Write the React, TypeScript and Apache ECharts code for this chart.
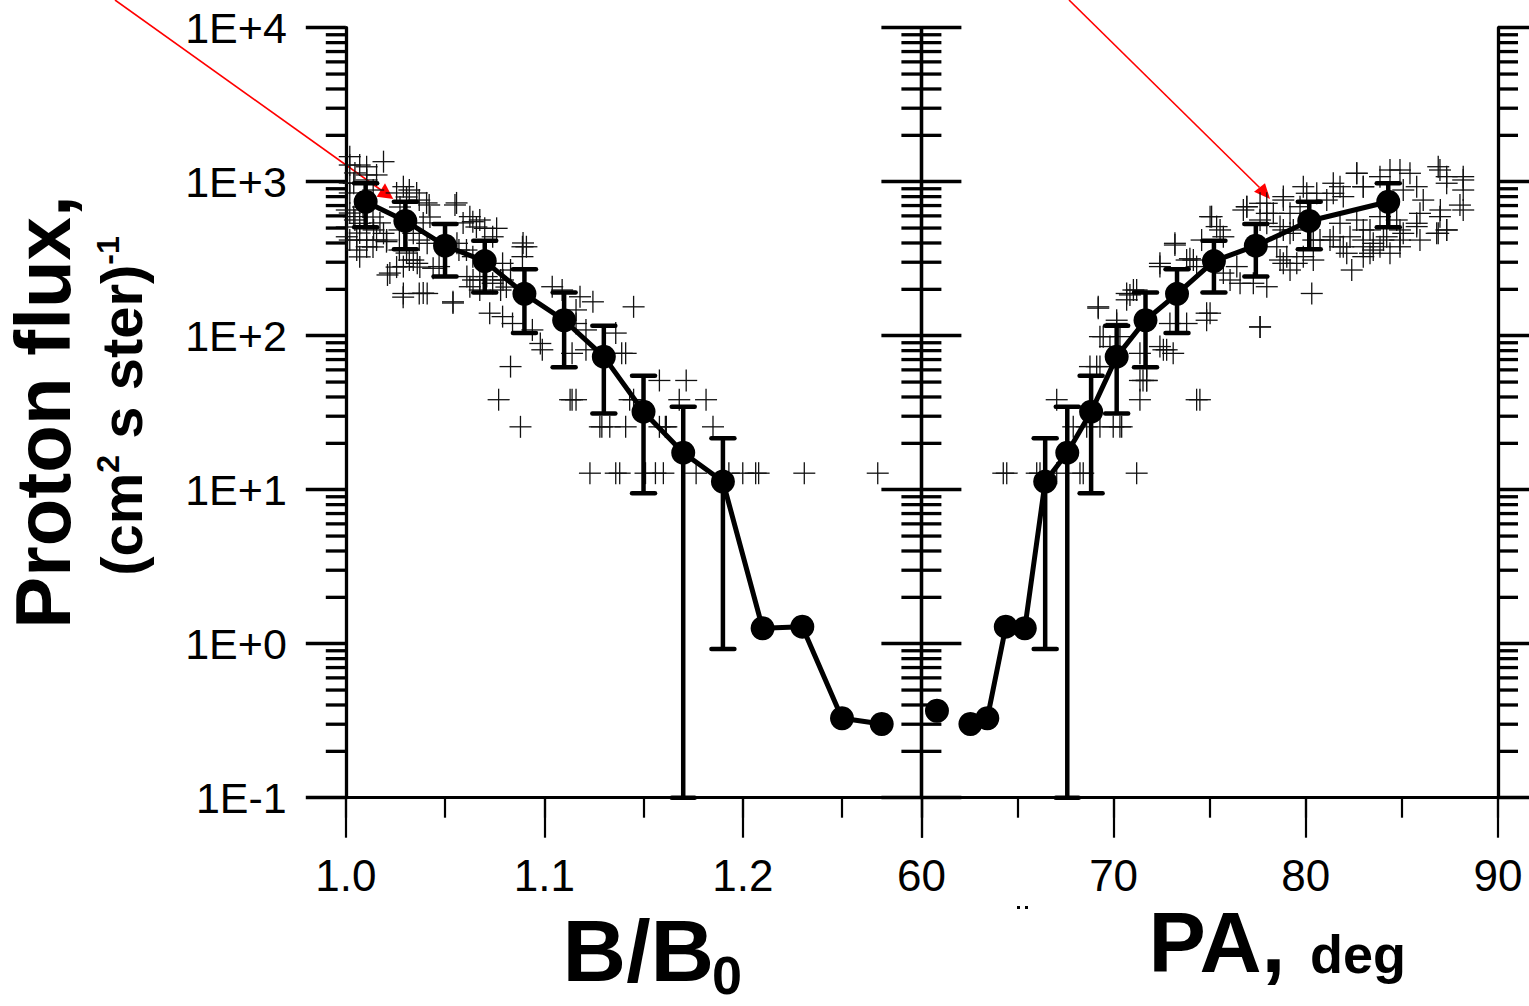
import React, { useEffect, useRef } from 'react';
import * as echarts from 'echarts';

const FONT = 'Liberation Sans, Arial, Helvetica, sans-serif';

// Mean values (black circles) – same data shown vs B/B0 and vs pitch angle
const bRatio = [1.01, 1.03, 1.05, 1.07, 1.09, 1.11, 1.13, 1.15, 1.17, 1.19, 1.21, 1.23, 1.25, 1.27];
const paDeg = [84.29, 80.18, 77.4, 75.22, 73.3, 71.66, 70.16, 68.83, 67.59, 66.44, 65.38, 64.39, 63.43, 62.55];
const fluxMean = [741, 556, 384, 305, 187, 126, 73.1, 32.1, 17.4, 11.3, 1.26, 1.29, 0.328, 0.301];
const errLow = [506, 364, 242, 191, 104, 62.4, 31.3, 9.48, 0.1, 0.925];
const errHigh = [977, 741, 531, 414, 270, 191, 116, 55, 34.6, 21.6];
const extraPa = [60.81];
const extraFlux = [0.367];

// Individual measurements ("+" markers)
const crossesB: number[][] = [
  [1.002, 1283], [1.019, 1349], [1.0105, 1106], [1.0155, 1106], [1.004, 977], [1.029, 928], [1.032, 883],
  [1.037, 760], [1.042, 706], [1.055, 706], [1.0625, 593], [1.064, 550], [1.07, 498], [1.076, 498], [1.074, 439],
  [1.0005, 655], [1.004, 593], [1.007, 537], [1.014, 486], [1.019, 462], [1.0055, 418], [1.0105, 378],
  [1.0005, 439], [1.0155, 418], [1.0205, 408], [1.027, 486], [1.034, 462], [1.037, 418], [1.041, 398],
  [1.027, 360], [1.032, 310], [1.036, 295], [1.029, 281], [1.021, 248], [1.044, 274], [1.047, 281],
  [1.056, 398], [1.057, 360], [1.064, 326], [1.061, 242], [1.0675, 230], [1.071, 242], [1.074, 219],
  [1.078, 230], [1.089, 378], [1.091, 378], [1.089, 326], [1.079, 295], [1.083, 267], [1.078, 198],
  [1.0675, 198], [1.0625, 208], [1.054, 166], [1.0725, 140], [1.079, 133], [1.084, 120], [1.094, 109],
  [1.098, 89], [1.099, 81], [1.104, 208], [1.109, 198], [1.118, 179], [1.1245, 166], [1.145, 154],
  [1.116, 147], [1.136, 104], [1.139, 76.8], [1.141, 76.8], [1.121, 81], [1.116, 120], [1.121, 109],
  [1.158, 51.2], [1.1715, 51.2], [1.1815, 38.4], [1.168, 38.4], [1.161, 25.6], [1.145, 38.4], [1.128, 25.6],
  [1.133, 25.6], [1.141, 25.6], [1.185, 25.6], [1.083, 63], [1.077, 38.4], [1.088, 25.6], [1.113, 38.4],
  [1.116, 38.4], [1.029, 188], [1.037, 188], [1.041, 188],
  [1.123, 12.8], [1.136, 12.8], [1.138, 12.8], [1.151, 12.8], [1.156, 12.8], [1.16, 12.8], [1.1765, 12.8],
  [1.193, 12.8], [1.2, 12.8], [1.2065, 12.8], [1.208, 12.8], [1.231, 12.8], [1.268, 12.8],
  [1.114, 38.4], [1.143, 38.4], [1.114, 76.8], [1.129, 25.6], [1.158, 25.6], [1.1615, 25.6],
  [1.007, 1283], [1.0046, 1140], [1.002, 981], [1.0105, 1026], [1.0138, 883], [1.002, 845], [1.0087, 685],
  [1.002, 626], [1.0046, 564], [1.0137, 590], [1.0172, 540], [1.0005, 508], [1.007, 464], [1.002, 418],
  [1.0105, 418], [1.0137, 377], [1.0055, 360], [1.007, 325], [1.0256, 845], [1.0306, 796], [1.0357, 845],
  [1.0273, 685], [1.0407, 728], [1.0424, 590], [1.039, 540], [1.0206, 418], [1.0306, 344], [1.034, 310],
  [1.0373, 279], [1.0256, 279], [1.0222, 255], [1.0289, 178], [1.039, 189], [1.054, 163], [1.0591, 540],
  [1.0658, 508], [1.0675, 564], [1.0558, 728], [1.0608, 360], [1.0641, 230], [1.0809, 207], [1.0893, 400],
  [1.0792, 230], [1.002, 1454], [1.0105, 1250],
];

const crossesPa: number[][] = [
  [69.2, 151], [70.16, 120], [70.85, 184], [71.2, 198], [72.41, 281], [73.19, 388], [73.8, 310], [74.32, 281],
  [75.1, 593], [75.36, 511], [75.71, 439], [76.06, 230], [75.02, 140], [74.84, 126], [76.75, 655], [77.62, 724],
  [77.97, 537], [77.27, 219], [77.62, 114], [78.83, 800], [79.18, 623], [78.49, 378], [78.83, 295], [79.18, 267],
  [79.87, 326], [80.39, 310], [80.31, 188], [79.87, 928], [80.57, 841], [81.43, 977], [81.95, 800], [81.43, 439],
  [81.95, 378], [82.39, 267], [82.65, 1134], [82.99, 928], [83.34, 486], [82.99, 378], [83.86, 1078],
  [84.9, 1191], [85.42, 1134], [85.77, 928], [83.86, 593], [84.21, 439], [84.9, 378], [85.77, 511],
  [86.89, 1251], [87.33, 977], [88.19, 1026], [88.19, 883], [88.19, 655], [87.0, 655], [86.89, 462],
  [87.33, 486], [86.11, 760], [84.9, 486], [83.34, 343], [83.86, 378], [84.38, 343], [74.49, 38.4],
  [67.04, 38.4], [71.72, 51.2], [71.37, 38.4], [69.12, 63], [70.42, 25.6], [69.29, 98.6], [72.59, 81],
  [70.68, 171], [74.15, 310], [74.58, 418], [76.58, 219], [76.41, 281], [75.71, 255], [78.83, 486],
  [79.35, 486], [78.66, 310], [81.09, 760], [81.78, 537], [82.65, 564], [82.99, 486], [83.51, 398],
  [85.07, 883], [85.94, 623],
  [69.2, 154], [70.16, 126], [70.33, 98.6], [69.46, 98.6], [70.68, 188], [71.03, 198], [72.41, 295],
  [73.19, 398], [73.97, 316], [75.02, 593], [75.54, 486], [74.84, 140], [72.93, 120], [73.8, 120],
  [71.37, 51.2], [71.72, 51.2], [77.62, 114], [77.97, 208], [76.93, 688], [77.97, 724], [68.77, 63],
  [69.81, 85], [72.41, 85], [72.76, 81],
  [64.26, 12.8], [64.44, 12.8], [66.0, 12.8], [66.17, 12.8], [67.04, 12.8], [68.25, 12.8], [68.42, 12.8],
  [71.2, 12.8], [74.32, 38.4], [71.53, 51.2], [67.9, 25.6], [68.6, 25.6], [69.29, 25.6], [69.98, 25.6],
  [70.33, 25.6], [69.29, 63], [71.72, 63], [71.37, 76.8], [73.1, 76.8],
  [86.98, 1191], [87.33, 1078], [88.19, 1078], [88.02, 705], [86.98, 593], [87.33, 486], [86.81, 462],
  [85.77, 537], [85.94, 418], [84.9, 418], [84.04, 418], [82.99, 418], [82.3, 439], [81.78, 378],
  [81.26, 418], [80.39, 418], [82.65, 1134], [82.99, 928], [81.78, 928], [81.43, 841], [80.05, 841],
  [79.7, 688], [78.83, 760], [78.31, 623], [78.66, 511], [79.18, 462], [79.01, 326], [79.53, 295],
  [84.38, 1191], [84.73, 564], [85.07, 462], [83.51, 360], [82.99, 326], [82.13, 343], [80.74, 418],
  [76.93, 688], [77.62, 564], [77.97, 623],
];

const yTickLabels = ['1E-1', '1E+0', '1E+1', '1E+2', '1E+3', '1E+4'];
const xTickLabelsB = ['1.0', '1.1', '1.2'];
const xTickLabelsPa = ['60', '70', '80', '90'];

// log-axis minor tick positions (2..9 x each decade) – axis structure, not data
const minorTickValues: number[] = [];
for (let e = -1; e <= 3; e++) {
  for (let m = 2; m <= 9; m++) minorTickValues.push(m * Math.pow(10, e));
}

const B_MIN = 1.0;
const B_MAX = 1.29;
const PA_MIN = 60;
const PA_MAX = 90;

function yAxisDef(gridIndex: number, position: 'left' | 'right', showLabel: boolean) {
  return {
    type: 'log',
    logBase: 10,
    gridIndex,
    position,
    min: 0.1,
    max: 10000,
    splitNumber: 5,
    axisLine: { show: true, lineStyle: { color: '#000', width: 3.3 } },
    axisTick: { show: true, inside: false, length: 40, lineStyle: { color: '#000', width: 3.3 } },
    minorTick: { show: false },
    splitLine: { show: false },
    axisLabel: {
      show: showLabel,
      showMinLabel: true,
      showMaxLabel: true,
      formatter: (v: number) => yTickLabels[Math.round(Math.log10(v)) + 1] ?? '',
      fontSize: 43,
      fontFamily: FONT,
      color: '#000',
      margin: 59,
    },
  };
}

function minorTickSeries(xAxisIndex: number, yAxisIndex: number, xMin: number, xMax: number) {
  return {
    type: 'custom',
    xAxisIndex,
    yAxisIndex,
    clip: false,
    silent: true,
    z: 3,
    data: minorTickValues.map((v) => [xMin, v]),
    renderItem: (_p: any, api: any) => {
      const v = api.value(1);
      const p0 = api.coord([xMin, v]);
      const p1 = api.coord([xMax, v]);
      const st = { stroke: '#000', lineWidth: 3.3 };
      return {
        type: 'group',
        children: [
          { type: 'line', shape: { x1: p0[0] - 20, y1: p0[1], x2: p0[0], y2: p0[1] }, style: st },
          { type: 'line', shape: { x1: p1[0], y1: p1[1], x2: p1[0] + 20, y2: p1[1] }, style: st },
        ],
      };
    },
  };
}

function crossSeries(xAxisIndex: number, yAxisIndex: number, data: number[][]) {
  return {
    type: 'custom',
    xAxisIndex,
    yAxisIndex,
    clip: false,
    silent: true,
    z: 2,
    data,
    renderItem: (_p: any, api: any) => {
      const p = api.coord([api.value(0), api.value(1)]);
      const h = 11;
      const st = { stroke: '#111', lineWidth: 1.3 };
      return {
        type: 'group',
        children: [
          { type: 'line', shape: { x1: p[0] - h, y1: p[1], x2: p[0] + h, y2: p[1] }, style: st },
          { type: 'line', shape: { x1: p[0], y1: p[1] - h, x2: p[0], y2: p[1] + h }, style: st },
        ],
      };
    },
  };
}

function errorSeries(xAxisIndex: number, yAxisIndex: number, xs: number[]) {
  return {
    type: 'custom',
    xAxisIndex,
    yAxisIndex,
    clip: false,
    silent: true,
    z: 4,
    data: errLow.map((lo, i) => [xs[i], lo, errHigh[i]]),
    encode: { x: 0, y: [1, 2] },
    renderItem: (_p: any, api: any) => {
      const x = api.value(0);
      const lo = api.coord([x, api.value(1)]);
      const hi = api.coord([x, api.value(2)]);
      const cw = 11.5;
      const st = { stroke: '#000', lineWidth: 4.5 };
      const cap = { stroke: '#000', lineWidth: 4.5, lineCap: 'round' };
      return {
        type: 'group',
        children: [
          { type: 'line', shape: { x1: lo[0], y1: lo[1], x2: hi[0], y2: hi[1] }, style: st },
          { type: 'line', shape: { x1: hi[0] - cw, y1: hi[1], x2: hi[0] + cw, y2: hi[1] }, style: cap },
          { type: 'line', shape: { x1: lo[0] - cw, y1: lo[1], x2: lo[0] + cw, y2: lo[1] }, style: cap },
        ],
      };
    },
  };
}

function xMajor(gridIndex: number, min: number, max: number, interval: number, formatter: (v: number) => string) {
  return {
    type: 'value',
    gridIndex,
    position: 'bottom',
    min,
    max,
    interval,
    axisLine: { show: true, lineStyle: { color: '#000', width: 3 } },
    axisTick: { show: true, inside: false, length: 40, lineStyle: { color: '#000', width: 2.2 } },
    splitLine: { show: false },
    axisLabel: {
      show: true,
      showMinLabel: true,
      showMaxLabel: true,
      formatter,
      fontSize: 44,
      fontFamily: FONT,
      color: '#000',
      margin: 56,
    },
  };
}

function xMinor(gridIndex: number, min: number, max: number, interval: number) {
  return {
    type: 'value',
    gridIndex,
    position: 'bottom',
    min,
    max,
    interval,
    axisLine: { show: false },
    axisTick: { show: true, inside: false, length: 20, lineStyle: { color: '#000', width: 2.2 } },
    splitLine: { show: false },
    axisLabel: { show: false },
  };
}

const labelB = (v: number) => {
  const f = (v - 1) * 10;
  const i = Math.round(f);
  if (Math.abs(f - i) > 1e-6) return '';
  return xTickLabelsB[i] ?? '';
};
const labelPa = (v: number) => {
  const f = (v - 60) / 10;
  const i = Math.round(f);
  if (Math.abs(f - i) > 1e-6) return '';
  return xTickLabelsPa[i] ?? '';
};

export default function App() {
  const ref = useRef<HTMLDivElement>(null);

  useEffect(() => {
    if (!ref.current) return;
    const chart = echarts.init(ref.current, undefined, { renderer: 'svg' });
    const option: any = {
      animation: false,
      backgroundColor: '#ffffff',
      grid: [
        { left: 345.8, top: 27.7, width: 575.6, height: 770, containLabel: false, outerBoundsMode: 'none' },
        { left: 921.4, top: 27.7, width: 576.6, height: 770, containLabel: false, outerBoundsMode: 'none' },
      ],
      xAxis: [
        xMajor(0, B_MIN, B_MAX, 0.1, labelB),
        xMinor(0, B_MIN, B_MAX, 0.05),
        xMajor(1, PA_MIN, PA_MAX, 10, labelPa),
        xMinor(1, PA_MIN, PA_MAX, 5),
      ],
      yAxis: [
        yAxisDef(0, 'left', true),
        yAxisDef(0, 'right', false),
        yAxisDef(1, 'left', false),
        yAxisDef(1, 'right', false),
      ],
      series: [
        minorTickSeries(0, 0, B_MIN, B_MAX),
        minorTickSeries(2, 2, PA_MIN, PA_MAX),
        crossSeries(0, 0, crossesB),
        crossSeries(2, 2, crossesPa),
        errorSeries(0, 0, bRatio),
        errorSeries(2, 2, paDeg),
        {
          type: 'line',
          xAxisIndex: 0,
          yAxisIndex: 0,
          data: bRatio.map((b, i) => [b, fluxMean[i]]),
          symbol: 'circle',
          symbolSize: 24,
          lineStyle: { color: '#000', width: 5 },
          itemStyle: { color: '#000', opacity: 1 },
          z: 5,
          silent: true,
        },
        {
          type: 'line',
          xAxisIndex: 2,
          yAxisIndex: 2,
          data: paDeg.map((p, i) => [p, fluxMean[i]]),
          symbol: 'circle',
          symbolSize: 24,
          lineStyle: { color: '#000', width: 5 },
          itemStyle: { color: '#000', opacity: 1 },
          z: 5,
          silent: true,
        },
        {
          type: 'scatter',
          xAxisIndex: 2,
          yAxisIndex: 2,
          data: extraPa.map((p, i) => [p, extraFlux[i]]),
          symbol: 'circle',
          symbolSize: 24,
          itemStyle: { color: '#000', opacity: 1 },
          z: 5,
          silent: true,
        },
      ],
      graphic: [
        {
          type: 'text',
          x: 43,
          y: 412,
          rotation: Math.PI / 2,
          style: {
            text: 'Proton flux,',
            fontSize: 78,
            fontWeight: 'bold',
            fontFamily: FONT,
            fill: '#000',
            align: 'center',
            verticalAlign: 'middle',
            textAlign: 'center',
            textVerticalAlign: 'middle',
          },
        },
        {
          type: 'text',
          x: 121,
          y: 406,
          rotation: Math.PI / 2,
          style: {
            text: '{a|(cm}{s|2}{a| s ster)}{s|-1}',
            rich: {
              a: { fontSize: 58, fontWeight: 'bold', fontFamily: FONT, fill: '#000', color: '#000' },
              s: { fontSize: 32, fontWeight: 'bold', fontFamily: FONT, fill: '#000', color: '#000', verticalAlign: 'top' },
            },
            fill: '#000',
            align: 'center',
            verticalAlign: 'middle',
            textAlign: 'center',
            textVerticalAlign: 'middle',
          },
        },
        {
          type: 'text',
          x: 562.6,
          y: 950,
          style: {
            text: 'B/B',
            fontSize: 88,
            fontWeight: 'bold',
            fontFamily: FONT,
            fill: '#000',
            align: 'left',
            verticalAlign: 'middle',
            textAlign: 'left',
            textVerticalAlign: 'middle',
          },
        },
        {
          type: 'text',
          x: 712,
          y: 975,
          style: {
            text: '0',
            fontSize: 54,
            fontWeight: 'bold',
            fontFamily: FONT,
            fill: '#000',
            align: 'left',
            verticalAlign: 'middle',
            textAlign: 'left',
            textVerticalAlign: 'middle',
          },
        },
        {
          type: 'text',
          x: 1148.5,
          y: 942,
          style: {
            text: 'PA,',
            fontSize: 86,
            fontWeight: 'bold',
            fontFamily: FONT,
            fill: '#000',
            align: 'left',
            verticalAlign: 'middle',
            textAlign: 'left',
            textVerticalAlign: 'middle',
          },
        },
        {
          type: 'text',
          x: 1310,
          y: 954,
          style: {
            text: 'deg',
            fontSize: 54,
            fontWeight: 'bold',
            fontFamily: FONT,
            fill: '#000',
            align: 'left',
            verticalAlign: 'middle',
            textAlign: 'left',
            textVerticalAlign: 'middle',
          },
        },
        { type: 'rect', shape: { x: 1017, y: 906, width: 3, height: 3 }, style: { fill: '#000' } },
        { type: 'rect', shape: { x: 1025, y: 906, width: 3, height: 3 }, style: { fill: '#000' } },
        // red arrows
        { type: 'line', shape: { x1: 115, y1: 0, x2: 381, y2: 190 }, style: { stroke: '#ff0000', lineWidth: 1.6 } },
        {
          type: 'polygon',
          shape: { points: [[393.3, 199], [376.7, 196.7], [385, 183.3]] },
          style: { fill: '#ff0000' },
        },
        { type: 'line', shape: { x1: 1069, y1: 0, x2: 1259.5, y2: 187.5 }, style: { stroke: '#ff0000', lineWidth: 1.6 } },
        {
          type: 'polygon',
          shape: { points: [[1270, 199], [1254, 191.7], [1265, 183.3]] },
          style: { fill: '#ff0000' },
        },
      ],
    };
    chart.setOption(option);
    return () => chart.dispose();
  }, []);

  return (
    <div
      ref={ref}
      style={{ position: 'fixed', left: 0, top: 0, width: 1529, height: 1006, background: '#fff' }}
    />
  );
}
